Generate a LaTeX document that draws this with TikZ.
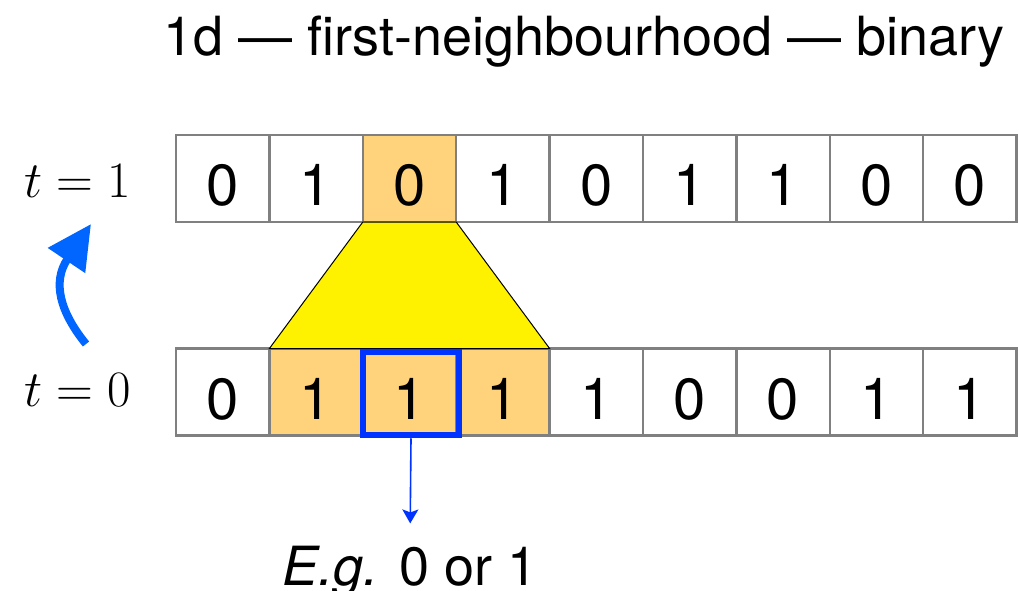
\documentclass[tikz,border=0pt]{standalone}
\usepackage{fix-cm}
\usepackage{fontspec}
\setmainfont{TeX Gyre Heros}
\usetikzlibrary{arrows.meta}
\definecolor{cellgrey}{RGB}{128,128,128}
\definecolor{hood}{RGB}{255,211,124}
\definecolor{hilite}{RGB}{0,51,255}
\definecolor{stepblue}{RGB}{0,102,255}
\begin{document}
\begin{tikzpicture}[x=1pt,y=-1pt,
  cell/.style={draw=cellgrey, line width=2.4pt, minimum width=93.4pt,
    minimum height=87pt, inner sep=0pt, outer sep=0pt,
    text height=54pt, text depth=0pt, font=\fontsize{58}{60}\selectfont},
  timelabel/.style={font=\fontsize{51}{54}\selectfont, anchor=base, inner sep=0pt},
  cone/.style={fill=yellow, draw=black, line width=1pt},
  pickbox/.style={draw=hilite, line width=6.5pt, minimum width=96pt,
    minimum height=83pt, inner sep=0pt},
  pickarrow/.style={draw=hilite, line width=1.6pt,
    -{Stealth[length=14pt, width=16pt, inset=3pt]}},
  steparrow/.style={draw=stepblue, line width=8pt,
    -{Triangle[length=44pt, width=43pt]}}]
\useasboundingbox (0,0) rectangle (1019,591);

% title
\node[font=\fontsize{54}{56}\selectfont, anchor=base, inner sep=0pt] (title) at (584,56)
  {1d — first-neighbourhood — binary};

% row at t = 1
\foreach \v/\f [count=\i from 0] in
  {0/white,1/white,0/hood,1/white,0/white,1/white,1/white,0/white,0/white}
  \node[cell, fill=\f] (top\i) at ({176+93.4*(\i+0.5)},178.5) {\v};

% row at t = 0
\foreach \v/\f [count=\i from 0] in
  {0/white,1/hood,1/hood,1/hood,1/white,0/white,0/white,1/white,1/white}
  \node[cell, fill=\f] (bot\i) at ({176+93.4*(\i+0.5)},392) {\v};

% neighbourhood cone
\draw[cone] (top2.south west) -- (top2.south east) -- (bot3.north east)
  -- (bot1.north west) -- cycle;

% highlighted centre cell and its outcome
\node[pickbox] (pick) at (411,393.5) {};
\node[font=\fontsize{54}{56}\selectfont, anchor=base, inner sep=0pt] (eg) at (410,585)
  {\textit{E.g.} 0 or 1};
\draw[pickarrow, shorten >=22pt] (pick.south) -- (eg.north);

% time labels
\node[timelabel] (t1) at (78,197) {$t=1$};
\node[timelabel] (t0) at (78,406) {$t=0$};

% time step arrow
\coordinate (stepfrom) at (86,344);
\coordinate (stepto) at (91,224);
\draw[steparrow] (stepfrom) .. controls (60,312) and (52,282) .. (stepto);
\end{tikzpicture}
\end{document}
